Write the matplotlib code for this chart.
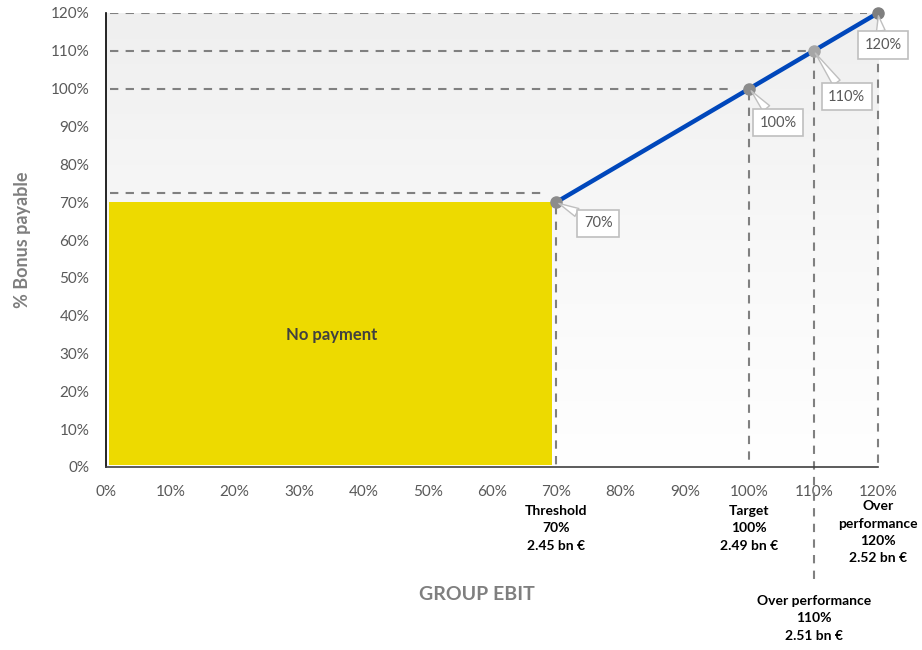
import numpy as np
import matplotlib
matplotlib.use("Agg")
import matplotlib.pyplot as plt
from matplotlib.colors import LinearSegmentedColormap

# Bonus curve: EBIT achievement (%) -> bonus payable (%)
ebit_levels = [70, 100, 110, 120]
bonus_levels = [70, 100, 110, 120]
point_labels = ["70%", "100%", "110%", "120%"]

# Guide line heights (horizontal dashes) per milestone
guide_heights = [72.5, 100, 110, 120]

# Milestone captions under the x axis
milestone_x = [70, 100, 120, 110]
milestone_text = [
    "Threshold\n70%\n2.45 bn €",
    "Target\n100%\n2.49 bn €",
    "Over\nperformance\n120%\n2.52 bn €",
    "Over performance\n110%\n2.51 bn €",
]

no_payment_limit = 70
tick_values = list(range(0, 121, 10))

plt.rcParams["font.family"] = ["Lato", "DejaVu Sans"]

fig = plt.figure(figsize=(9.22, 6.5), dpi=100)
ax = fig.add_axes([106 / 922, 1 - 467 / 650, 772 / 922, 454 / 650])
ax.set_xlim(0, 120)
ax.set_ylim(0, 120)

# Soft vertical gradient background
grad = np.linspace(0, 1, 256).reshape(-1, 1)
cmap = LinearSegmentedColormap.from_list("bg", ["#ffffff", "#f8f8f8", "#efefef"])
ax.imshow(grad, extent=[0, 120, 0, 120], origin="lower", aspect="auto",
          cmap=cmap, zorder=0)

# No-payment zone
ax.fill_between([0.4, no_payment_limit - 0.6], 0.5, no_payment_limit,
                color="#EDDA00", zorder=1, linewidth=0)
ax.text(no_payment_limit / 2, 35, "No payment", ha="center", va="center",
        fontsize=12, fontweight="bold", color="#404040", zorder=3)

dash_kw = dict(color="#808080", linewidth=1.5, dashes=(4, 3.5), zorder=2)

# Horizontal guides to each milestone
h_ends = [68.5, 97.5, 109, 118.3]
for h, xe in zip(guide_heights, h_ends):
    ax.plot([0.6, xe], [h, h], **dash_kw)

# Vertical guides from each milestone down to the axis (110% runs below)
v_bottoms = [0, 0, -31, 0]
for x, y, yb in zip(ebit_levels, bonus_levels, v_bottoms):
    ax.plot([x, x], [y - 1, yb], clip_on=False, **dash_kw)

# Bonus line
ax.plot(ebit_levels, bonus_levels, color="#0047BB", linewidth=3.2,
        zorder=4, solid_capstyle="butt")
marker_colors = ["#8c8c8c", "#8c8c8c", "#a6a6a6", "#7f7f7f"]
for x, y, c in zip(ebit_levels, bonus_levels, marker_colors):
    ax.plot(x, y, "o", markersize=8, color=c, zorder=5, clip_on=False)

# Callout labels
offsets = [(42, -21), (29, -34), (33, -46), (5, -32)]
for x, y, lab, off in zip(ebit_levels, bonus_levels, point_labels, offsets):
    ax.annotate(lab, xy=(x, y), xytext=off, textcoords="offset pixels",
                ha="center", va="center", fontsize=10.5, color="#595959",
                bbox=dict(boxstyle="square,pad=0.45", fc="white",
                          ec="#bfbfbf", lw=1.2),
                arrowprops=dict(arrowstyle="wedge,tail_width=0.6,shrink_factor=0.5",
                                fc="white", ec="#bfbfbf", lw=1.0,
                                shrinkA=0, shrinkB=2),
                zorder=6, annotation_clip=False)

# Axes styling
ax.set_xticks(tick_values)
ax.set_yticks(tick_values)
ax.set_xticklabels([f"{v}%" for v in tick_values])
ax.set_yticklabels([f"{v}%" for v in tick_values])
ax.tick_params(length=0, labelsize=11, labelcolor="#595959")
ax.tick_params(axis="x", pad=13)
ax.tick_params(axis="y", pad=12)
for side in ["top", "right"]:
    ax.spines[side].set_visible(False)
ax.spines["left"].set_color("#000000")
ax.spines["left"].set_linewidth(1.2)
ax.spines["bottom"].set_color("#404040")
ax.spines["bottom"].set_linewidth(1.2)

ax.set_ylabel("% Bonus payable", fontsize=13, fontweight="bold",
              color="#7f7f7f", labelpad=14)
fig.text(477 / 922, 1 - 595 / 650, "GROUP EBIT", ha="center", va="center",
         fontsize=14, fontweight="bold", color="#7f7f7f")

# Milestone captions
caption_tops = [505, 505, 500, 595]
for x, txt, top in zip(milestone_x, milestone_text, caption_tops):
    xd = ax.transData.transform((x, 0))[0]
    fig.text(xd / 922, 1 - top / 650, txt, ha="center", va="top",
             fontsize=10, fontweight="bold", color="#000000",
             linespacing=1.55)

fig.savefig("out.png", dpi=100)
